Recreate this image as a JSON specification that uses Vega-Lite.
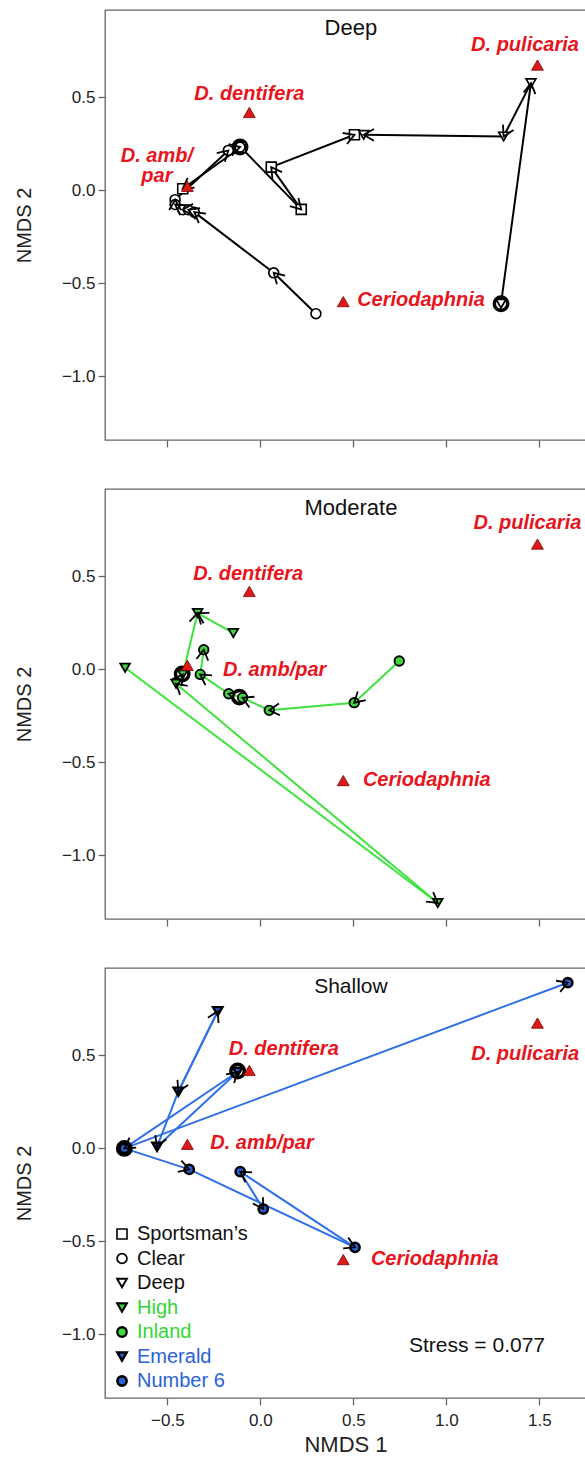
{
  "$schema": "https://vega.github.io/schema/vega-lite/v6.json",
  "padding": {"left": 13, "top": 9, "right": 0, "bottom": 0},
  "autosize": {"type": "pad"},
  "spacing": 49,
  "bounds": "flush",
  "config": {
    "view": {"stroke": "#666", "strokeWidth": 1.3},
    "font": "Liberation Sans",
    "axis": {"grid": false, "domain": false, "tickColor": "#666", "tickSize": 7, "tickWidth": 1.3, "labelFontSize": 17, "labelColor": "#222", "labelFont": "Liberation Sans", "titleFont": "Liberation Sans", "titleFontWeight": "normal", "titleFontSize": 20, "titleColor": "#222", "labelPadding": 3}
  },
  "datasets": {
    "pts": [
      {"panel": "Deep", "lake": "Sportsman’s", "x": -0.417, "y": 0.009},
      {"panel": "Deep", "lake": "Sportsman’s", "x": 0.059, "y": 0.125},
      {"panel": "Deep", "lake": "Sportsman’s", "x": 0.22, "y": -0.102},
      {"panel": "Deep", "lake": "Sportsman’s", "x": 0.506, "y": 0.299},
      {"panel": "Deep", "lake": "Sportsman’s", "x": -0.105, "y": 0.232},
      {"panel": "Deep", "lake": "Clear", "x": -0.109, "y": 0.233},
      {"panel": "Deep", "lake": "Clear", "x": -0.172, "y": 0.215},
      {"panel": "Deep", "lake": "Clear", "x": -0.458, "y": -0.05},
      {"panel": "Deep", "lake": "Clear", "x": -0.458, "y": -0.076},
      {"panel": "Deep", "lake": "Clear", "x": -0.417, "y": -0.104},
      {"panel": "Deep", "lake": "Clear", "x": -0.387, "y": -0.104},
      {"panel": "Deep", "lake": "Clear", "x": -0.355, "y": -0.117},
      {"panel": "Deep", "lake": "Clear", "x": 0.072, "y": -0.443},
      {"panel": "Deep", "lake": "Clear", "x": 0.299, "y": -0.663},
      {"panel": "Deep", "lake": "Deep", "x": 1.294, "y": -0.609},
      {"panel": "Deep", "lake": "Deep", "x": 1.455, "y": 0.577},
      {"panel": "Deep", "lake": "Deep", "x": 1.308, "y": 0.29},
      {"panel": "Deep", "lake": "Deep", "x": 0.556, "y": 0.299},
      {"panel": "Moderate", "lake": "High", "x": -0.727, "y": 0.009},
      {"panel": "Moderate", "lake": "High", "x": 0.954, "y": -1.256},
      {"panel": "Moderate", "lake": "High", "x": -0.453, "y": -0.077},
      {"panel": "Moderate", "lake": "High", "x": -0.417, "y": -0.027},
      {"panel": "Moderate", "lake": "High", "x": -0.337, "y": 0.303},
      {"panel": "Moderate", "lake": "High", "x": -0.145, "y": 0.195},
      {"panel": "Moderate", "lake": "Inland", "x": 0.747, "y": 0.045},
      {"panel": "Moderate", "lake": "Inland", "x": 0.505, "y": -0.179},
      {"panel": "Moderate", "lake": "Inland", "x": 0.048, "y": -0.22},
      {"panel": "Moderate", "lake": "Inland", "x": -0.095, "y": -0.152},
      {"panel": "Moderate", "lake": "Inland", "x": -0.17, "y": -0.131},
      {"panel": "Moderate", "lake": "Inland", "x": -0.323, "y": -0.027},
      {"panel": "Moderate", "lake": "Inland", "x": -0.304, "y": 0.106},
      {"panel": "Shallow", "lake": "Emerald", "x": -0.229, "y": 0.738},
      {"panel": "Shallow", "lake": "Emerald", "x": -0.441, "y": 0.305},
      {"panel": "Shallow", "lake": "Emerald", "x": -0.555, "y": 0.009},
      {"panel": "Shallow", "lake": "Emerald", "x": -0.122, "y": 0.412},
      {"panel": "Shallow", "lake": "Emerald", "x": -0.731, "y": 0.0},
      {"panel": "Shallow", "lake": "Number 6", "x": 1.653, "y": 0.891},
      {"panel": "Shallow", "lake": "Number 6", "x": -0.731, "y": 0.0},
      {"panel": "Shallow", "lake": "Number 6", "x": -0.382, "y": -0.113},
      {"panel": "Shallow", "lake": "Number 6", "x": 0.016, "y": -0.326},
      {"panel": "Shallow", "lake": "Number 6", "x": -0.108, "y": -0.125},
      {"panel": "Shallow", "lake": "Number 6", "x": 0.509, "y": -0.532}
    ],
    "segs": [
      {"panel": "Deep", "lake": "Deep", "x": 1.294, "y": -0.609, "x2": 1.455, "y2": 0.577},
      {"panel": "Deep", "lake": "Deep", "x": 1.455, "y": 0.577, "x2": 1.308, "y2": 0.29},
      {"panel": "Deep", "lake": "Deep", "x": 1.308, "y": 0.29, "x2": 0.556, "y2": 0.299},
      {"panel": "Deep", "lake": "Sportsman’s", "x": -0.105, "y": 0.232, "x2": -0.417, "y2": 0.009},
      {"panel": "Deep", "lake": "Sportsman’s", "x": -0.105, "y": 0.232, "x2": 0.22, "y2": -0.102},
      {"panel": "Deep", "lake": "Sportsman’s", "x": 0.22, "y": -0.102, "x2": 0.059, "y2": 0.125},
      {"panel": "Deep", "lake": "Sportsman’s", "x": 0.059, "y": 0.125, "x2": 0.506, "y2": 0.299},
      {"panel": "Deep", "lake": "Clear", "x": 0.299, "y": -0.663, "x2": 0.072, "y2": -0.443},
      {"panel": "Deep", "lake": "Clear", "x": 0.072, "y": -0.443, "x2": -0.355, "y2": -0.117},
      {"panel": "Deep", "lake": "Clear", "x": -0.355, "y": -0.117, "x2": -0.387, "y2": -0.104},
      {"panel": "Deep", "lake": "Clear", "x": -0.387, "y": -0.104, "x2": -0.417, "y2": -0.104},
      {"panel": "Deep", "lake": "Clear", "x": -0.417, "y": -0.104, "x2": -0.458, "y2": -0.076},
      {"panel": "Deep", "lake": "Clear", "x": -0.458, "y": -0.076, "x2": -0.458, "y2": -0.05},
      {"panel": "Deep", "lake": "Clear", "x": -0.458, "y": -0.05, "x2": -0.172, "y2": 0.215},
      {"panel": "Deep", "lake": "Clear", "x": -0.172, "y": 0.215, "x2": -0.109, "y2": 0.233},
      {"panel": "Moderate", "lake": "High", "x": -0.727, "y": 0.009, "x2": 0.954, "y2": -1.256},
      {"panel": "Moderate", "lake": "High", "x": 0.954, "y": -1.256, "x2": -0.453, "y2": -0.077},
      {"panel": "Moderate", "lake": "High", "x": -0.453, "y": -0.077, "x2": -0.417, "y2": -0.027},
      {"panel": "Moderate", "lake": "High", "x": -0.417, "y": -0.027, "x2": -0.337, "y2": 0.303},
      {"panel": "Moderate", "lake": "High", "x": -0.145, "y": 0.195, "x2": -0.337, "y2": 0.303},
      {"panel": "Moderate", "lake": "Inland", "x": 0.747, "y": 0.045, "x2": 0.505, "y2": -0.179},
      {"panel": "Moderate", "lake": "Inland", "x": 0.505, "y": -0.179, "x2": 0.048, "y2": -0.22},
      {"panel": "Moderate", "lake": "Inland", "x": 0.048, "y": -0.22, "x2": -0.095, "y2": -0.152},
      {"panel": "Moderate", "lake": "Inland", "x": -0.095, "y": -0.152, "x2": -0.17, "y2": -0.131},
      {"panel": "Moderate", "lake": "Inland", "x": -0.17, "y": -0.131, "x2": -0.323, "y2": -0.027},
      {"panel": "Moderate", "lake": "Inland", "x": -0.323, "y": -0.027, "x2": -0.304, "y2": 0.106},
      {"panel": "Shallow", "lake": "Emerald", "x": -0.441, "y": 0.305, "x2": -0.229, "y2": 0.738},
      {"panel": "Shallow", "lake": "Emerald", "x": -0.229, "y": 0.738, "x2": -0.441, "y2": 0.305},
      {"panel": "Shallow", "lake": "Emerald", "x": -0.441, "y": 0.305, "x2": -0.555, "y2": 0.009},
      {"panel": "Shallow", "lake": "Emerald", "x": -0.555, "y": 0.009, "x2": -0.122, "y2": 0.412},
      {"panel": "Shallow", "lake": "Emerald", "x": -0.122, "y": 0.412, "x2": -0.731, "y2": 0.0},
      {"panel": "Shallow", "lake": "Number 6", "x": -0.731, "y": 0.0, "x2": 1.653, "y2": 0.891},
      {"panel": "Shallow", "lake": "Number 6", "x": -0.731, "y": 0.0, "x2": -0.382, "y2": -0.113},
      {"panel": "Shallow", "lake": "Number 6", "x": -0.382, "y": -0.113, "x2": 0.509, "y2": -0.532},
      {"panel": "Shallow", "lake": "Number 6", "x": 0.509, "y": -0.532, "x2": -0.108, "y2": -0.125},
      {"panel": "Shallow", "lake": "Number 6", "x": -0.108, "y": -0.125, "x2": 0.016, "y2": -0.326}
    ],
    "bold": [
      {"panel": "Deep", "x": -0.109, "y": 0.233},
      {"panel": "Deep", "x": 1.294, "y": -0.609},
      {"panel": "Moderate", "x": -0.42, "y": -0.025},
      {"panel": "Moderate", "x": -0.113, "y": -0.149},
      {"panel": "Shallow", "x": -0.731, "y": 0.0},
      {"panel": "Shallow", "x": -0.122, "y": 0.416}
    ],
    "species": [
      {"name": "D. pulicaria", "x": 1.49, "y": 0.674},
      {"name": "D. dentifera", "x": -0.059, "y": 0.419},
      {"name": "D. amb/par", "x": -0.392, "y": 0.022},
      {"name": "Ceriodaphnia", "x": 0.446, "y": -0.598}
    ],
    "labels": [
      {"panel": "Deep", "kind": "title", "x": 0.487, "y": 0.872, "text": "Deep"},
      {"panel": "Moderate", "kind": "title", "x": 0.487, "y": 0.866, "text": "Moderate"},
      {"panel": "Shallow", "kind": "title", "x": 0.487, "y": 0.869, "text": "Shallow"},
      {"panel": "Shallow", "kind": "stress", "x": 1.165, "y": -1.06, "text": "Stress = 0.077"},
      {"panel": "Deep", "kind": "species", "x": 1.423, "y": 0.78, "text": "D. pulicaria"},
      {"panel": "Deep", "kind": "species", "x": -0.059, "y": 0.52, "text": "D. dentifera"},
      {"panel": "Deep", "kind": "species", "x": -0.556, "y": 0.184, "text": "D. amb/\npar"},
      {"panel": "Deep", "kind": "species", "x": 0.864, "y": -0.591, "text": "Ceriodaphnia"},
      {"panel": "Moderate", "kind": "species", "x": 1.436, "y": 0.787, "text": "D. pulicaria"},
      {"panel": "Moderate", "kind": "species", "x": -0.065, "y": 0.514, "text": "D. dentifera"},
      {"panel": "Moderate", "kind": "species", "x": 0.077, "y": -0.005, "text": "D. amb/par"},
      {"panel": "Moderate", "kind": "species", "x": 0.895, "y": -0.593, "text": "Ceriodaphnia"},
      {"panel": "Shallow", "kind": "species", "x": 1.424, "y": 0.505, "text": "D. pulicaria"},
      {"panel": "Shallow", "kind": "species", "x": 0.126, "y": 0.534, "text": "D. dentifera"},
      {"panel": "Shallow", "kind": "species", "x": 0.009, "y": 0.027, "text": "D. amb/par"},
      {"panel": "Shallow", "kind": "species", "x": 0.938, "y": -0.597, "text": "Ceriodaphnia"}
    ]
  },
  "resolve": {
    "scale": {"shape": "independent", "fill": "independent", "size": "independent", "strokeWidth": "independent", "stroke": "independent"},
    "legend": {"shape": "independent", "fill": "independent", "size": "independent", "strokeWidth": "independent"}
  },
  "vconcat": [
    {
      "width": 481, "height": 430,
      "encoding": {
        "x": {"field": "x", "type": "quantitative", "scale": {"domain": [-0.835, 1.751], "nice": false, "zero": false}, "axis": {"values": [-0.5, 0, 0.5, 1, 1.5], "labels": false, "title": null}},
        "y": {"field": "y", "type": "quantitative", "scale": {"domain": [-1.342, 0.97], "nice": false, "zero": false}, "axis": {"values": [-1, -0.5, 0, 0.5], "format": ".1f", "title": "NMDS 2", "titleX": -71}}
      },
      "layer": [
        {"data": {"name": "segs"}, "transform": [{"filter": "datum.panel === 'Deep'"}], "mark": {"type": "rule", "stroke": "black", "strokeWidth": 2}, "encoding": {"x2": {"field": "x2"}, "y2": {"field": "y2"}}},
        {"data": {"name": "bold"}, "transform": [{"filter": "datum.panel === 'Deep'"}], "mark": {"type": "point", "shape": "circle", "filled": false, "stroke": "black", "strokeWidth": 3.5, "size": 180, "opacity": 1}},
        {"data": {"name": "pts"}, "transform": [{"filter": "datum.panel === 'Deep'"}], "mark": {"type": "point", "filled": true, "stroke": "black", "opacity": 1},
          "encoding": {
            "shape": {"field": "lake", "type": "nominal", "scale": {"domain": ["Sportsman’s", "Clear", "Deep", "High", "Inland", "Emerald", "Number 6"], "range": ["square", "circle", "triangle-down", "triangle-down", "circle", "triangle-down", "circle"]}, "legend": null},
            "fill": {"field": "lake", "type": "nominal", "scale": {"domain": ["Sportsman’s", "Clear", "Deep", "High", "Inland", "Emerald", "Number 6"], "range": ["white", "white", "white", "#3fd63f", "#3fd63f", "#2a62d8", "#2a62d8"]}, "legend": null},
            "size": {"field": "lake", "type": "nominal", "scale": {"domain": ["Sportsman’s", "Clear", "Deep", "High", "Inland", "Emerald", "Number 6"], "range": [100, 85, 160, 160, 80, 160, 65]}, "legend": null},
            "strokeWidth": {"field": "lake", "type": "nominal", "scale": {"domain": ["Sportsman’s", "Clear", "Deep", "High", "Inland", "Emerald", "Number 6"], "range": [1.6, 2, 1.8, 1.3, 1.3, 1.3, 1.3]}, "legend": null}
          }},
        {"data": {"name": "segs"}, "transform": [{"filter": "datum.panel === 'Deep'"}, {"calculate": "atan2(-(datum.y2 - datum.y), datum.x2 - datum.x) * 180 / PI", "as": "ang"}],
          "mark": {"type": "point", "shape": "M-1.732,-1L0,0L-1.732,1", "filled": false, "stroke": "black", "strokeWidth": 1.8, "size": 140, "opacity": 1},
          "encoding": {
            "x": {"field": "x2", "type": "quantitative", "scale": {"domain": [-0.835, 1.751], "nice": false, "zero": false}, "axis": {"values": [-0.5, 0, 0.5, 1, 1.5], "labels": false, "title": null}},
            "y": {"field": "y2", "type": "quantitative", "scale": {"domain": [-1.342, 0.97], "nice": false, "zero": false}, "axis": {"values": [-1, -0.5, 0, 0.5], "format": ".1f", "title": "NMDS 2", "titleX": -71}},
            "angle": {"field": "ang", "type": "quantitative", "scale": null}
          }},
        {"data": {"name": "species"}, "mark": {"type": "point", "shape": "triangle-up", "filled": true, "fill": "#dd1a1a", "stroke": "#7a0000", "strokeWidth": 0.8, "size": 140, "opacity": 1}},
        {"data": {"name": "labels"}, "transform": [{"filter": "datum.panel === 'Deep' && datum.kind === 'species'"}], "mark": {"type": "text", "font": "Liberation Sans", "fontSize": 20, "fontWeight": "bold", "fontStyle": "italic", "fill": "#e8141c", "align": "center", "baseline": "middle", "lineBreak": "\n", "lineHeight": 20}, "encoding": {"text": {"field": "text"}}},
        {"data": {"name": "labels"}, "transform": [{"filter": "datum.panel === 'Deep' && datum.kind === 'title'"}], "mark": {"type": "text", "font": "Liberation Sans", "fontSize": 22, "fill": "#111", "align": "center", "baseline": "middle"}, "encoding": {"text": {"field": "text"}}}
      ]
    },
    {
      "width": 481, "height": 430,
      "encoding": {
        "x": {"field": "x", "type": "quantitative", "scale": {"domain": [-0.835, 1.751], "nice": false, "zero": false}, "axis": {"values": [-0.5, 0, 0.5, 1, 1.5], "labels": false, "title": null}},
        "y": {"field": "y", "type": "quantitative", "scale": {"domain": [-1.342, 0.97], "nice": false, "zero": false}, "axis": {"values": [-1, -0.5, 0, 0.5], "format": ".1f", "title": "NMDS 2", "titleX": -71}}
      },
      "layer": [
        {"data": {"name": "segs"}, "transform": [{"filter": "datum.panel === 'Moderate'"}], "mark": {"type": "rule", "stroke": "#3ee23e", "strokeWidth": 2}, "encoding": {"x2": {"field": "x2"}, "y2": {"field": "y2"}}},
        {"data": {"name": "bold"}, "transform": [{"filter": "datum.panel === 'Moderate'"}], "mark": {"type": "point", "shape": "circle", "filled": false, "stroke": "black", "strokeWidth": 3.5, "size": 180, "opacity": 1}},
        {"data": {"name": "pts"}, "transform": [{"filter": "datum.panel === 'Moderate'"}], "mark": {"type": "point", "filled": true, "stroke": "black", "opacity": 1},
          "encoding": {
            "shape": {"field": "lake", "type": "nominal", "scale": {"domain": ["Sportsman’s", "Clear", "Deep", "High", "Inland", "Emerald", "Number 6"], "range": ["square", "circle", "triangle-down", "triangle-down", "circle", "triangle-down", "circle"]}, "legend": null},
            "fill": {"field": "lake", "type": "nominal", "scale": {"domain": ["Sportsman’s", "Clear", "Deep", "High", "Inland", "Emerald", "Number 6"], "range": ["white", "white", "white", "#3fd63f", "#3fd63f", "#2a62d8", "#2a62d8"]}, "legend": null},
            "size": {"field": "lake", "type": "nominal", "scale": {"domain": ["Sportsman’s", "Clear", "Deep", "High", "Inland", "Emerald", "Number 6"], "range": [100, 85, 160, 160, 80, 160, 65]}, "legend": null},
            "strokeWidth": {"field": "lake", "type": "nominal", "scale": {"domain": ["Sportsman’s", "Clear", "Deep", "High", "Inland", "Emerald", "Number 6"], "range": [1.6, 2, 1.8, 1.3, 1.3, 1.3, 1.3]}, "legend": null}
          }},
        {"data": {"name": "segs"}, "transform": [{"filter": "datum.panel === 'Moderate'"}, {"calculate": "atan2(-(datum.y2 - datum.y), datum.x2 - datum.x) * 180 / PI", "as": "ang"}],
          "mark": {"type": "point", "shape": "M-1.732,-1L0,0L-1.732,1", "filled": false, "stroke": "black", "strokeWidth": 1.8, "size": 140, "opacity": 1},
          "encoding": {
            "x": {"field": "x2", "type": "quantitative", "scale": {"domain": [-0.835, 1.751], "nice": false, "zero": false}, "axis": {"values": [-0.5, 0, 0.5, 1, 1.5], "labels": false, "title": null}},
            "y": {"field": "y2", "type": "quantitative", "scale": {"domain": [-1.342, 0.97], "nice": false, "zero": false}, "axis": {"values": [-1, -0.5, 0, 0.5], "format": ".1f", "title": "NMDS 2", "titleX": -71}},
            "angle": {"field": "ang", "type": "quantitative", "scale": null}
          }},
        {"data": {"name": "species"}, "mark": {"type": "point", "shape": "triangle-up", "filled": true, "fill": "#dd1a1a", "stroke": "#7a0000", "strokeWidth": 0.8, "size": 140, "opacity": 1}},
        {"data": {"name": "labels"}, "transform": [{"filter": "datum.panel === 'Moderate' && datum.kind === 'species'"}], "mark": {"type": "text", "font": "Liberation Sans", "fontSize": 20, "fontWeight": "bold", "fontStyle": "italic", "fill": "#e8141c", "align": "center", "baseline": "middle", "lineBreak": "\n", "lineHeight": 20}, "encoding": {"text": {"field": "text"}}},
        {"data": {"name": "labels"}, "transform": [{"filter": "datum.panel === 'Moderate' && datum.kind === 'title'"}], "mark": {"type": "text", "font": "Liberation Sans", "fontSize": 22, "fill": "#111", "align": "center", "baseline": "middle"}, "encoding": {"text": {"field": "text"}}}
      ]
    },
    {
      "width": 481, "height": 430,
      "encoding": {
        "x": {"field": "x", "type": "quantitative", "scale": {"domain": [-0.835, 1.751], "nice": false, "zero": false}, "axis": {"values": [-0.5, 0, 0.5, 1, 1.5], "format": ".1f", "title": "NMDS 1", "titleFontSize": 22, "titlePadding": 6, "labelPadding": 7}},
        "y": {"field": "y", "type": "quantitative", "scale": {"domain": [-1.342, 0.97], "nice": false, "zero": false}, "axis": {"values": [-1, -0.5, 0, 0.5], "format": ".1f", "title": "NMDS 2", "titleX": -71}}
      },
      "layer": [
        {"data": {"name": "segs"}, "transform": [{"filter": "datum.panel === 'Shallow'"}], "mark": {"type": "rule", "stroke": "#2f6fe8", "strokeWidth": 2}, "encoding": {"x2": {"field": "x2"}, "y2": {"field": "y2"}}},
        {"data": {"name": "bold"}, "transform": [{"filter": "datum.panel === 'Shallow'"}], "mark": {"type": "point", "shape": "circle", "filled": false, "stroke": "black", "strokeWidth": 3.5, "size": 180, "opacity": 1}},
        {"data": {"name": "pts"}, "transform": [{"filter": "datum.panel === 'Shallow'"}], "mark": {"type": "point", "filled": true, "stroke": "black", "opacity": 1},
          "encoding": {
            "shape": {"field": "lake", "type": "nominal", "scale": {"domain": ["Sportsman’s", "Clear", "Deep", "High", "Inland", "Emerald", "Number 6"], "range": ["square", "circle", "triangle-down", "triangle-down", "circle", "triangle-down", "circle"]},
              "legend": {"orient": "bottom-left", "offset": 7, "title": null, "labelFontSize": 20, "labelFont": "Liberation Sans", "rowPadding": 4.5, "labelOffset": 5, "padding": 0,
                "labelColor": {"expr": "datum.value === 'High' || datum.value === 'Inland' ? '#33d633' : (datum.value === 'Emerald' || datum.value === 'Number 6' ? '#2a62d8' : '#111')"},
                "encode": {"symbols": {"stroke": {"value": "black"}}}}},
            "fill": {"field": "lake", "type": "nominal", "scale": {"domain": ["Sportsman’s", "Clear", "Deep", "High", "Inland", "Emerald", "Number 6"], "range": ["white", "white", "white", "#3fd63f", "#3fd63f", "#2a62d8", "#2a62d8"]},
              "legend": {"orient": "bottom-left", "offset": 7, "title": null, "labelFontSize": 20, "labelFont": "Liberation Sans", "rowPadding": 4.5, "labelOffset": 5, "padding": 0,
                "labelColor": {"expr": "datum.value === 'High' || datum.value === 'Inland' ? '#33d633' : (datum.value === 'Emerald' || datum.value === 'Number 6' ? '#2a62d8' : '#111')"},
                "encode": {"symbols": {"stroke": {"value": "black"}}}}},
            "size": {"field": "lake", "type": "nominal", "scale": {"domain": ["Sportsman’s", "Clear", "Deep", "High", "Inland", "Emerald", "Number 6"], "range": [100, 85, 160, 160, 80, 160, 65]},
              "legend": {"orient": "bottom-left", "offset": 7, "title": null, "labelFontSize": 20, "labelFont": "Liberation Sans", "rowPadding": 4.5, "labelOffset": 5, "padding": 0,
                "labelColor": {"expr": "datum.value === 'High' || datum.value === 'Inland' ? '#33d633' : (datum.value === 'Emerald' || datum.value === 'Number 6' ? '#2a62d8' : '#111')"},
                "encode": {"symbols": {"stroke": {"value": "black"}}}}},
            "strokeWidth": {"field": "lake", "type": "nominal", "scale": {"domain": ["Sportsman’s", "Clear", "Deep", "High", "Inland", "Emerald", "Number 6"], "range": [1.6, 2.6, 1.8, 1.3, 1.3, 1.3, 1.3]},
              "legend": {"orient": "bottom-left", "offset": 7, "title": null, "labelFontSize": 20, "labelFont": "Liberation Sans", "rowPadding": 4.5, "labelOffset": 5, "padding": 0,
                "labelColor": {"expr": "datum.value === 'High' || datum.value === 'Inland' ? '#33d633' : (datum.value === 'Emerald' || datum.value === 'Number 6' ? '#2a62d8' : '#111')"},
                "encode": {"symbols": {"stroke": {"value": "black"}}}}}
          }},
        {"data": {"name": "segs"}, "transform": [{"filter": "datum.panel === 'Shallow'"}, {"calculate": "atan2(-(datum.y2 - datum.y), datum.x2 - datum.x) * 180 / PI", "as": "ang"}],
          "mark": {"type": "point", "shape": "M-1.732,-1L0,0L-1.732,1", "filled": false, "stroke": "black", "strokeWidth": 1.8, "size": 140, "opacity": 1},
          "encoding": {
            "x": {"field": "x2", "type": "quantitative", "scale": {"domain": [-0.835, 1.751], "nice": false, "zero": false}, "axis": {"values": [-0.5, 0, 0.5, 1, 1.5], "format": ".1f", "title": "NMDS 1", "titleFontSize": 22, "titlePadding": 6, "labelPadding": 7}},
            "y": {"field": "y2", "type": "quantitative", "scale": {"domain": [-1.342, 0.97], "nice": false, "zero": false}, "axis": {"values": [-1, -0.5, 0, 0.5], "format": ".1f", "title": "NMDS 2", "titleX": -71}},
            "angle": {"field": "ang", "type": "quantitative", "scale": null}
          }},
        {"data": {"name": "species"}, "mark": {"type": "point", "shape": "triangle-up", "filled": true, "fill": "#dd1a1a", "stroke": "#7a0000", "strokeWidth": 0.8, "size": 140, "opacity": 1}},
        {"data": {"name": "labels"}, "transform": [{"filter": "datum.panel === 'Shallow' && datum.kind === 'species'"}], "mark": {"type": "text", "font": "Liberation Sans", "fontSize": 20, "fontWeight": "bold", "fontStyle": "italic", "fill": "#e8141c", "align": "center", "baseline": "middle", "lineBreak": "\n", "lineHeight": 20}, "encoding": {"text": {"field": "text"}}},
        {"data": {"name": "labels"}, "transform": [{"filter": "datum.panel === 'Shallow' && datum.kind !== 'species'"}], "mark": {"type": "text", "font": "Liberation Sans", "fontSize": 21, "fill": "#111", "align": "center", "baseline": "middle"}, "encoding": {"text": {"field": "text"}}}
      ]
    }
  ]
}
